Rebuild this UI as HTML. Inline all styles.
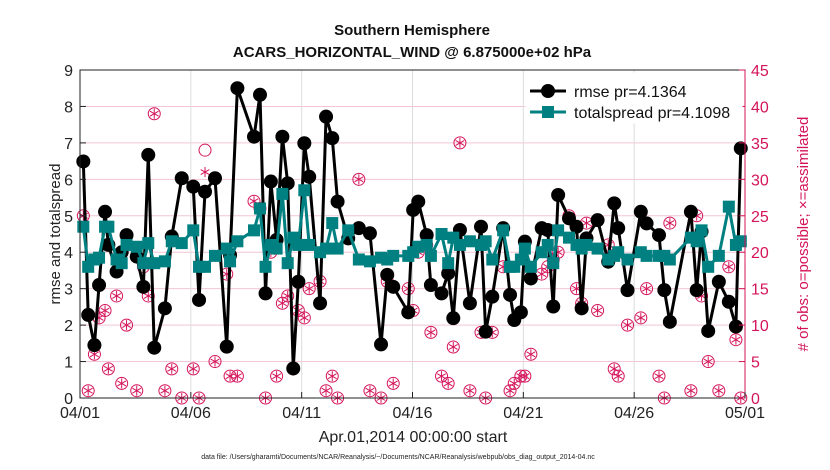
<!DOCTYPE html>
<html><head><meta charset="utf-8"><style>
body{margin:0;background:#fff;}
svg{display:block;font-family:"Liberation Sans",sans-serif;}
</style></head><body>
<svg id="c" width="830" height="470"></svg>
<script>
const days=[0.15,0.37,0.65,0.86,1.13,1.28,1.65,1.88,2.1,2.56,2.86,3.08,3.35,3.83,4.14,4.59,5.11,5.37,5.64,6.09,6.62,6.77,7.1,7.85,8.12,8.37,8.61,8.87,9.13,9.37,9.62,9.85,10.12,10.34,10.83,11.1,11.38,11.62,12.1,12.58,13.08,13.58,13.86,14.13,14.81,15.03,15.26,15.64,15.83,16.31,16.61,16.84,17.14,17.59,18.09,18.3,18.6,19.09,19.4,19.59,19.89,20.07,20.34,20.83,21.1,21.35,21.57,22.06,22.4,22.63,22.85,23.35,23.83,24.1,24.28,24.7,25.3,25.56,26.12,26.36,26.61,27.56,27.82,28.04,28.34,28.82,29.27,29.59,29.81];
const rmse=[6.49,2.28,1.45,3.1,5.11,4.2,3.47,4.0,4.47,3.88,3.05,6.67,1.38,2.46,4.43,6.03,5.8,2.69,5.66,6.03,1.41,3.92,8.5,7.17,8.32,2.87,5.94,4.34,7.17,5.89,0.81,3.19,6.99,6.07,2.6,7.72,7.13,5.39,4.38,4.66,4.52,1.47,3.38,3.05,2.35,5.16,5.39,4.47,3.1,2.87,3.42,2.19,4.61,2.6,4.7,1.82,2.78,4.66,2.83,2.14,2.35,4.29,3.28,4.66,4.61,2.51,5.57,4.93,4.7,2.46,4.38,4.88,3.74,5.34,4.66,2.96,5.11,4.79,4.47,2.96,2.09,5.11,2.96,4.57,1.84,3.19,2.64,1.96,6.85];
const spread=[4.7,3.6,3.8,3.85,4.7,4.7,3.8,3.7,4.2,4.15,3.7,4.25,3.7,3.75,4.3,4.25,4.6,3.6,3.6,3.9,4.1,3.75,4.3,4.6,5.2,3.6,4.2,4.1,5.6,3.7,4.4,4.2,5.7,4.2,4.0,4.1,4.8,4.1,4.6,3.8,3.75,3.85,3.8,3.9,3.9,4.0,4.15,4.2,3.9,4.5,3.7,4.4,4.2,4.3,4.2,4.3,3.8,4.6,3.6,3.6,3.8,4.1,3.6,4.0,4.2,3.7,4.6,4.4,4.2,4.1,4.2,4.1,3.8,3.9,4.0,3.8,4.0,3.9,3.9,3.9,3.8,4.4,4.3,4.6,3.6,3.9,5.25,4.2,4.3];
const possible=[25,1,6,11,12,4,14,2,10,1,18,14,39,1,4,0,4,0,34,5,17,3,3,27,26,0,20,3,13,14,4,12,11,15,16,1,3,0,22,30,1,0,16,2,15,12,20,21,9,3,2,7,35,1,9,0,9,18,1,2,3,3,6,17,18,19,20,25,15,13,24,12,21,4,3,10,11,15,3,0,24,1,25,14,5,1,18,8,0];
const used=[25,1,6,11,12,4,14,2,10,1,18,14,39,1,4,0,4,0,31,5,17,3,3,27,26,0,20,3,13,14,4,12,11,15,16,1,3,0,22,30,1,0,16,2,15,12,20,21,9,3,2,7,35,1,9,0,9,18,1,2,3,3,6,17,18,19,20,25,15,13,24,12,21,4,3,10,11,15,3,0,24,1,25,14,5,1,18,8,0];
const yTicks=[0,1,2,3,4,5,6,7,8,9];
const rTicks=[0,5,10,15,20,25,30,35,40,45];
const xTicks=[0,5,10,15,20,25,30];
const xLabels=['04/01','04/06','04/11','04/16','04/21','04/26','05/01'];

const L=80,R=745,T=70,B=398,NS='http://www.w3.org/2000/svg',svg=document.getElementById('c');
const X=d=>L+d/30*(R-L), Y=v=>B-v/9*(B-T), YR=v=>B-v/45*(B-T);
const RED='#d4145a';
function el(t,a,p){const e=document.createElementNS(NS,t);for(const k in a)e.setAttribute(k,a[k]);(p||svg).appendChild(e);return e;}
function txt(s,a){const e=el('text',a);e.textContent=s;return e;}
el('rect',{x:L,y:T,width:R-L,height:B-T,fill:'#fff'});
yTicks.forEach(v=>{if(v>0&&v<9){const g=el('line',{x1:L,x2:R,y1:Y(v),y2:Y(v),stroke:'#f2c6d6','stroke-width':1});

}});
xTicks.forEach(d=>{if(d>0&&d<30){const g=el('line',{x1:X(d),x2:X(d),y1:T,y2:B,stroke:'#dcdcdc','stroke-width':1});

}});
days.forEach((d,i)=>{
 const cx=X(d),cp=YR(possible[i]),cu=YR(used[i]);
 const c=el('circle',{cx:cx,cy:cp,r:6,fill:'none',stroke:RED,'stroke-width':1});
 
 
 const g=el('g',{stroke:RED,'stroke-width':1});
 
 
 [[0,5],[4.3,2.5],[4.3,-2.5]].forEach(([a,b])=>el('line',{x1:cx-a,y1:cu-b,x2:cx+a,y2:cu+b},g));
});
function series(vals,color,marker,name){
 const pts=days.map((d,i)=>X(d)+','+Y(vals[i])).join(' ');
 const pl=el('polyline',{points:pts,fill:'none',stroke:color,'stroke-width':3});
 
 
 days.forEach((d,i)=>{let m;
  if(marker==='c')m=el('circle',{cx:X(d),cy:Y(vals[i]),r:7,fill:color});
  else m=el('rect',{x:X(d)-6,y:Y(vals[i])-6,width:12,height:12,fill:color});
  
  });
}
series(rmse,'#000','c','rmse');
series(spread,'#008080','s','totalspread');
el('rect',{x:L,y:T,width:R-L,height:B-T,fill:'none',stroke:'#222','stroke-width':1});
el('line',{x1:R,x2:R,y1:T,y2:B,stroke:RED,'stroke-width':1});
yTicks.forEach(v=>{el('line',{x1:L,x2:L+6,y1:Y(v),y2:Y(v),stroke:'#222'});
 const t=txt(v,{x:L-7,y:Y(v)+6,'text-anchor':'end','font-size':16,fill:'#222'});
 
 });
rTicks.forEach(v=>{el('line',{x1:R-6,x2:R,y1:YR(v),y2:YR(v),stroke:RED});
 const t=txt(v,{x:R+6,y:YR(v)+6,'font-size':16,fill:RED});
 
 });
xTicks.forEach((d,i)=>{el('line',{x1:X(d),x2:X(d),y1:B,y2:B-6,stroke:'#222'});
 const t=txt(xLabels[i],{x:X(d),y:B+20,'text-anchor':'middle','font-size':16,fill:'#222'});
 
 });
</script>
<script>
(function(){
const svg=document.getElementById('c');
function add(html){svg.insertAdjacentHTML('beforeend',html);}
add('<text x="412" y="35" text-anchor="middle" font-size="15" font-weight="bold" fill="#111">Southern Hemisphere</text>');
add('<text x="412" y="57" text-anchor="middle" font-size="15" font-weight="bold" fill="#111">ACARS_HORIZONTAL_WIND @ 6.875000e+02 hPa</text>');
add('<text x="413" y="442" text-anchor="middle" font-size="16" fill="#222">Apr.01,2014 00:00:00 start</text>');
add('<text transform="translate(60,234) rotate(-90)" text-anchor="middle" font-size="15" fill="#222">rmse and totalspread</text>');
add('<text transform="translate(808,234) rotate(-90)" text-anchor="middle" font-size="15" fill="#d4145a"># of obs: o=possible; ×=assimilated</text>');
add('<text x="398" y="459" text-anchor="middle" font-size="7" fill="#222">data file: /Users/gharamti/Documents/NCAR/Reanalysis/~/Documents/NCAR/Reanalysis/webpub/obs_diag_output_2014-04.nc</text>');
add('<g><rect x="526" y="73" width="216" height="50" fill="#fff" stroke="#fff"/>'+
'<line x1="530" x2="566" y1="91" y2="91" stroke="#000" stroke-width="3"/><circle cx="548" cy="91" r="7" fill="#000"/>'+
'<text x="574" y="97" font-size="16" fill="#111">rmse pr=4.1364</text>'+
'<line x1="530" x2="566" y1="112" y2="112" stroke="#008080" stroke-width="3"/><rect x="542" y="106" width="12" height="12" fill="#008080"/>'+
'<text x="574" y="118" font-size="16" fill="#111">totalspread pr=4.1098</text></g>');
})();
</script>
</body></html>
